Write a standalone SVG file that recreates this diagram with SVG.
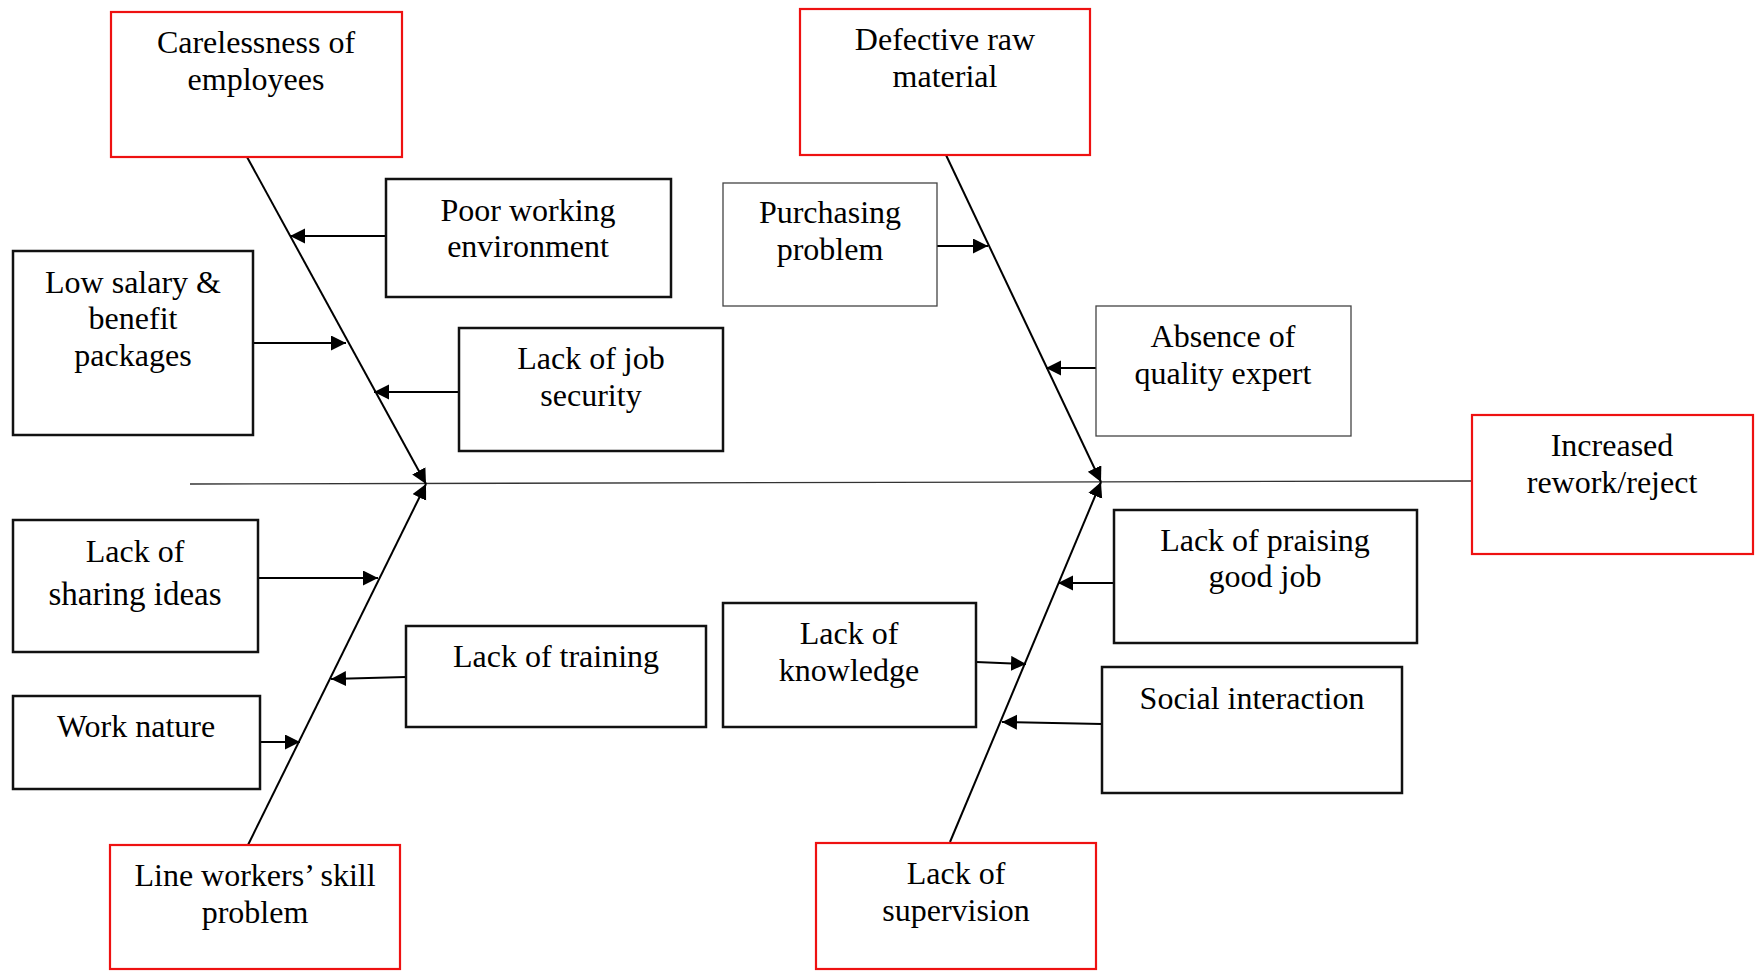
<svg xmlns="http://www.w3.org/2000/svg" width="1757" height="971" viewBox="0 0 1757 971">
<style>
.box{fill:#fff;stroke:#111;stroke-width:2.5}
.thin{fill:#fff;stroke:#444;stroke-width:1.3}
.red{fill:#fff;stroke:#ee1111;stroke-width:2.2}
text{font-family:"Liberation Serif","Times New Roman",serif;font-size:32px;fill:#000;text-anchor:middle}
.arr{stroke:#000;stroke-width:2;fill:none;marker-end:url(#ah)}
.axis{stroke:#333;stroke-width:1.3;fill:none}
</style>
<defs>
<marker id="ah" markerUnits="userSpaceOnUse" markerWidth="17" markerHeight="16" refX="15" refY="7.5" orient="auto">
<path d="M0,0 L15,7.5 L0,15 z" fill="#000"/>
</marker>
</defs>
<rect width="1757" height="971" fill="#fff"/>
<g id="connectors">
<line class="axis" x1="190" y1="484" x2="1472" y2="481"/>
<line class="arr" x1="247" y1="157" x2="426" y2="484"/>
<line class="arr" x1="248" y1="845" x2="426" y2="484"/>
<line class="arr" x1="946" y1="155" x2="1101" y2="482"/>
<line class="arr" x1="950" y1="842" x2="1101" y2="482"/>
<line class="arr" x1="386" y1="236" x2="290" y2="236"/>
<line class="arr" x1="253" y1="343" x2="346" y2="343"/>
<line class="arr" x1="459" y1="392" x2="374" y2="392"/>
<line class="arr" x1="937" y1="246" x2="988" y2="246"/>
<line class="arr" x1="1096" y1="368" x2="1046" y2="368"/>
<line class="arr" x1="258" y1="578" x2="378" y2="578"/>
<line class="arr" x1="406" y1="677" x2="331" y2="679"/>
<line class="arr" x1="260" y1="742" x2="300" y2="742"/>
<line class="arr" x1="1114" y1="583" x2="1058" y2="583"/>
<line class="arr" x1="976" y1="662" x2="1026" y2="664"/>
<line class="arr" x1="1102" y1="724" x2="1002" y2="722"/>
</g>
<g id="careless"><rect class="red" x="111" y="12" width="291" height="145"/><text x="256" y="53">Carelessness of</text><text x="256" y="90">employees</text></g>
<g id="poorwork"><rect class="box" x="386" y="179" width="285" height="118"/><text x="528" y="221">Poor working</text><text x="528" y="257">environment</text></g>
<g id="lowsalary"><rect class="box" x="13" y="251" width="240" height="184"/><text x="133" y="293">Low salary &amp;</text><text x="133" y="329">benefit</text><text x="133" y="366">packages</text></g>
<g id="jobsecurity"><rect class="box" x="459" y="328" width="264" height="123"/><text x="591" y="369">Lack of job</text><text x="591" y="406">security</text></g>
<g id="defective"><rect class="red" x="800" y="9" width="290" height="146"/><text x="945" y="50">Defective raw</text><text x="945" y="87">material</text></g>
<g id="purchasing"><rect class="thin" x="723" y="183" width="214" height="123"/><text x="830" y="223">Purchasing</text><text x="830" y="260">problem</text></g>
<g id="absence"><rect class="thin" x="1096" y="306" width="255" height="130"/><text x="1223" y="347">Absence of</text><text x="1223" y="384">quality expert</text></g>
<g id="increased"><rect class="red" x="1472" y="415" width="281" height="139"/><text x="1612" y="456">Increased</text><text x="1612" y="493">rework/reject</text></g>
<g id="sharing"><rect class="box" x="13" y="520" width="245" height="132"/><text x="135" y="562">Lack of</text><text x="135" y="605" style="font-size:33px">sharing ideas</text></g>
<g id="worknature"><rect class="box" x="13" y="696" width="247" height="93"/><text x="136" y="737">Work nature</text></g>
<g id="training"><rect class="box" x="406" y="626" width="300" height="101"/><text x="556" y="667">Lack of training</text></g>
<g id="lineworkers"><rect class="red" x="110" y="845" width="290" height="124"/><text x="255" y="886">Line workers’ skill</text><text x="255" y="923">problem</text></g>
<g id="praising"><rect class="box" x="1114" y="510" width="303" height="133"/><text x="1265" y="551">Lack of praising</text><text x="1265" y="587">good job</text></g>
<g id="knowledge"><rect class="box" x="723" y="603" width="253" height="124"/><text x="849" y="644">Lack of</text><text x="849" y="681">knowledge</text></g>
<g id="social"><rect class="box" x="1102" y="667" width="300" height="126"/><text x="1252" y="709">Social interaction</text></g>
<g id="supervision"><rect class="red" x="816" y="843" width="280" height="126"/><text x="956" y="884">Lack of</text><text x="956" y="921">supervision</text></g>
</svg>
